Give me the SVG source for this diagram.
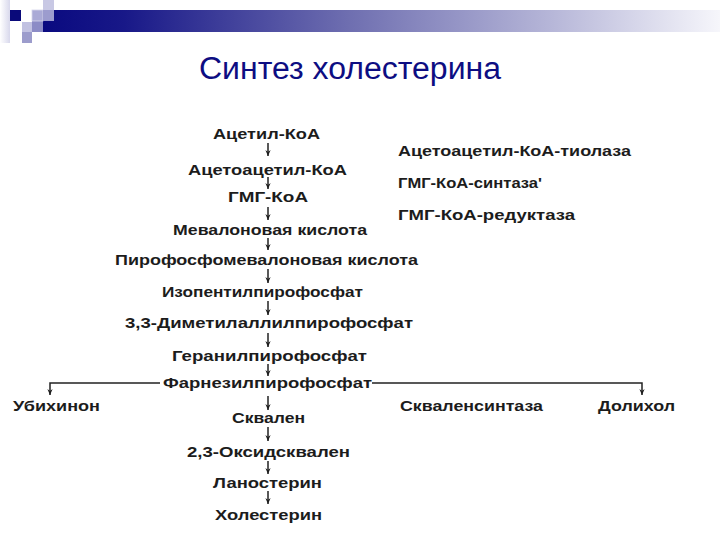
<svg xmlns="http://www.w3.org/2000/svg" width="720" height="540" viewBox="0 0 720 540">
  <defs>
    <linearGradient id="bar" x1="0" y1="0" x2="1" y2="0">
      <stop offset="0" stop-color="#0a0a80"/>
      <stop offset="0.12" stop-color="#181888"/>
      <stop offset="0.45" stop-color="#6e6eb0"/>
      <stop offset="0.75" stop-color="#b6b6d8"/>
      <stop offset="1" stop-color="#f6f6fb"/>
    </linearGradient>
    <linearGradient id="strip" x1="0" y1="0" x2="1" y2="0">
      <stop offset="0" stop-color="#ffffff"/>
      <stop offset="1" stop-color="#d8d8ec"/>
    </linearGradient>
    <marker id="ah" viewBox="0 0 8 8" refX="8" refY="4" markerWidth="6" markerHeight="7" markerUnits="userSpaceOnUse" orient="auto">
      <path d="M0,0.5 L8,4 L0,7.5 L2.5,4 Z" fill="#1e1e1e"/>
    </marker>
  </defs>
  <style>
    .t { font-family: "Liberation Sans", Arial, sans-serif; font-weight: bold; font-size: 14.5px; fill: #1c1c1c; }
    .title { font-family: "Liberation Sans", Arial, sans-serif; font-size: 31px; fill: #0d0d82; }
    .c { fill: none; stroke: #2a2a2a; stroke-width: 1.3; }
    .a { fill: none; stroke: #222; stroke-width: 1.5; marker-end: url(#ah); }
  </style>
  <rect width="720" height="540" fill="#ffffff"/>

  <g id="header">
    <rect x="0" y="0" width="10" height="43" fill="url(#strip)"/>
    <rect x="43" y="10" width="677" height="22" fill="url(#bar)"/>
    <rect x="32" y="21" width="11" height="11" fill="#8c8cc6"/>
    <rect x="10" y="10" width="11" height="11" fill="#0a0a7a"/>
    <rect x="22" y="22" width="10" height="10" fill="#c2c2e2"/>
    <rect x="22" y="32" width="10" height="11" fill="#9c9ccc"/>
    <rect x="32" y="10" width="11" height="11" fill="#aaaad6" stroke="#d4d4ec" stroke-width="0.8"/>
    <rect x="43" y="0" width="11" height="10" fill="#c8c8e4"/>
    <rect x="43" y="10" width="11" height="11" fill="#9c9cce"/>
  </g>

  <g id="title">
    <text class="title" x="199" y="79" textLength="302" lengthAdjust="spacingAndGlyphs">Синтез холестерина</text>
  </g>

  <g id="connectors">
    <path class="a" d="M268,143 V156"/>
    <path class="a" d="M268,177 V189"/>
    <path class="a" d="M268,207 V220"/>
    <path class="a" d="M268,238 V250"/>
    <path class="a" d="M268,269 V283"/>
    <path class="a" d="M268,301 V315"/>
    <path class="a" d="M268,333 V347"/>
    <path class="a" d="M268,364 V376"/>
    <path class="a" d="M268,396 V410"/>
    <path class="a" d="M268,427 V441"/>
    <path class="a" d="M268,461 V474"/>
    <path class="a" d="M268,491 V504"/>
    <path class="a" d="M160,383 H50 V395"/>
    <path class="a" d="M372,383 H642 V395"/>
  </g>

  <g id="acetyl-coa"><text class="t" x="213" y="139" textLength="107" lengthAdjust="spacingAndGlyphs">Ацетил-КоА</text></g>
  <g id="acetoacetyl-coa"><text class="t" x="188" y="175" textLength="159" lengthAdjust="spacingAndGlyphs">Ацетоацетил-КоА</text></g>
  <g id="hmg-coa"><text class="t" x="228" y="202" textLength="80" lengthAdjust="spacingAndGlyphs">ГМГ-КоА</text></g>
  <g id="mevalonate"><text class="t" x="173" y="235" textLength="194" lengthAdjust="spacingAndGlyphs">Мевалоновая кислота</text></g>
  <g id="pyrophosphomevalonate"><text class="t" x="115" y="265" textLength="303" lengthAdjust="spacingAndGlyphs">Пирофосфомевалоновая кислота</text></g>
  <g id="ipp"><text class="t" x="162" y="297" textLength="201" lengthAdjust="spacingAndGlyphs">Изопентилпирофосфат</text></g>
  <g id="dmapp"><text class="t" x="125" y="328" textLength="288" lengthAdjust="spacingAndGlyphs">3,3-Диметилаллилпирофосфат</text></g>
  <g id="gpp"><text class="t" x="172" y="361" textLength="195" lengthAdjust="spacingAndGlyphs">Геранилпирофосфат</text></g>
  <g id="fpp"><text class="t" x="163" y="388" textLength="209" lengthAdjust="spacingAndGlyphs">Фарнезилпирофосфат</text></g>
  <g id="ubiquinone"><text class="t" x="13" y="411" textLength="87" lengthAdjust="spacingAndGlyphs">Убихинон</text></g>
  <g id="squalene-synthase"><text class="t" x="400" y="411" textLength="143" lengthAdjust="spacingAndGlyphs">Скваленсинтаза</text></g>
  <g id="dolichol"><text class="t" x="598" y="411" textLength="77" lengthAdjust="spacingAndGlyphs">Долихол</text></g>
  <g id="squalene"><text class="t" x="232" y="423" textLength="73" lengthAdjust="spacingAndGlyphs">Сквален</text></g>
  <g id="oxidosqualene"><text class="t" x="187" y="457" textLength="163" lengthAdjust="spacingAndGlyphs">2,3-Оксидсквален</text></g>
  <g id="lanosterol"><text class="t" x="213" y="488" textLength="109" lengthAdjust="spacingAndGlyphs">Ланостерин</text></g>
  <g id="cholesterol"><text class="t" x="215" y="520" textLength="107" lengthAdjust="spacingAndGlyphs">Холестерин</text></g>

  <g id="thiolase"><text class="t" x="398" y="156" textLength="233" lengthAdjust="spacingAndGlyphs">Ацетоацетил-КоА-тиолаза</text></g>
  <g id="hmg-synthase"><text class="t" x="398" y="188" textLength="144" lengthAdjust="spacingAndGlyphs">ГМГ-КоА-синтаза'</text></g>
  <g id="hmg-reductase"><text class="t" x="398" y="220" textLength="177" lengthAdjust="spacingAndGlyphs">ГМГ-КоА-редуктаза</text></g>
</svg>
